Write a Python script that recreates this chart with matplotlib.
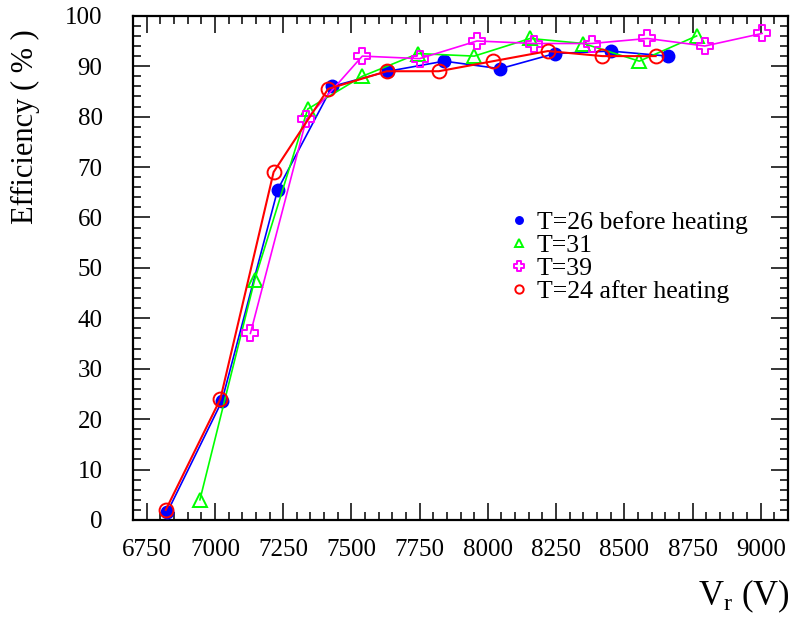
import matplotlib
matplotlib.use("Agg")
import matplotlib.pyplot as plt
from matplotlib.ticker import MultipleLocator
from matplotlib.path import Path

plt.rcParams['font.family'] = ['Liberation Serif', 'DejaVu Serif']
plt.rcParams['mathtext.fontset'] = 'custom'
plt.rcParams['mathtext.rm'] = 'Liberation Serif'
plt.rcParams['mathtext.it'] = 'Liberation Serif:italic'

# Efficiency vs. voltage for each temperature run
v_t26 = [6825, 7025, 7230, 7430, 7635, 7840, 8045, 8245, 8450, 8660]
eff_t26 = [1.5, 23.5, 65.5, 86, 89, 91, 89.5, 92.5, 93, 92]

v_t31 = [6945, 7145, 7340, 7540, 7745, 7950, 8155, 8350, 8555, 8765]
eff_t31 = [4, 47.5, 81.5, 88, 92.5, 92, 95.5, 94.5, 91, 96]

v_t39 = [7130, 7335, 7540, 7750, 7960, 8170, 8380, 8585, 8795, 9005]
eff_t39 = [37, 79.5, 92, 91.5, 95, 94.5, 94.5, 95.5, 94, 96.5]

v_t24 = [6820, 7020, 7215, 7415, 7630, 7820, 8020, 8220, 8420, 8615]
eff_t24 = [2, 24, 69, 85.5, 89, 89, 91, 93, 92, 92]

labels = ["T=26 before heating", "T=31", "T=39", "T=24 after heating"]
x_ticks = [6750, 7000, 7250, 7500, 7750, 8000, 8250, 8500, 8750, 9000]
y_ticks = [0, 10, 20, 30, 40, 50, 60, 70, 80, 90, 100]

# open cross marker outline
w = 0.33
cross = Path([(-w, 1), (w, 1), (w, w), (1, w), (1, -w), (w, -w), (w, -1),
              (-w, -1), (-w, -w), (-1, -w), (-1, w), (-w, w), (-w, 1)],
             closed=True)

fig = plt.figure(figsize=(7.92, 6.31), dpi=100)
ax = fig.add_axes([0.168, 0.176, 0.827, 0.799])

ax.plot(v_t26, eff_t26, color='#0000ff', lw=1.2, marker='o', ms=9,
        mfc='#0000ff', mec='#0000ff', label=labels[0], zorder=3)
ax.plot(v_t31, eff_t31, color='#00ff00', lw=1.2, marker='^', ms=10,
        mfc='none', mec='#00ff00', mew=1.4, label=labels[1], zorder=4)
ax.plot(v_t39, eff_t39, color='#ff00ff', lw=1.2, marker=cross, ms=11,
        mfc='none', mec='#ff00ff', mew=1.4, label=labels[2], zorder=5)
ax.plot(v_t24, eff_t24, color='#ff0000', lw=1.5, marker='o', ms=10,
        mfc='none', mec='#ff0000', mew=1.4, label=labels[3], zorder=6)

ax.set_xlim(6700, 9100)
ax.set_ylim(0, 100)
ax.set_xticks(x_ticks)
ax.set_yticks(y_ticks)
ax.xaxis.set_minor_locator(MultipleLocator(50))
ax.yaxis.set_minor_locator(MultipleLocator(2))
ax.tick_params(which='both', direction='in', top=True, right=True,
               width=1.1, colors='black', labelsize=18)
ax.tick_params(which='major', length=12)
ax.tick_params(which='minor', length=6)
ax.tick_params(axis='x', which='major', pad=14)
ax.tick_params(axis='y', which='major', pad=22)
for s in ax.spines.values():
    s.set_linewidth(1.6)

leg = ax.legend(loc='upper left', bbox_to_anchor=(0.55, 0.648), frameon=False,
                fontsize=18.5, markerscale=0.6, handlelength=0.6,
                handletextpad=0.4, labelspacing=0.0, borderpad=0.2)
for h in leg.get_lines():
    h.set_linestyle('none')

fig.text(0.032, 0.80, "Efficiency ( % )", rotation=90, fontsize=22,
         ha='center', va='center')
fig.text(0.997, 0.04, r"$\mathregular{V_r}$ (V)", fontsize=25,
         ha='right', va='baseline')

fig.savefig("out.png", dpi=100)
